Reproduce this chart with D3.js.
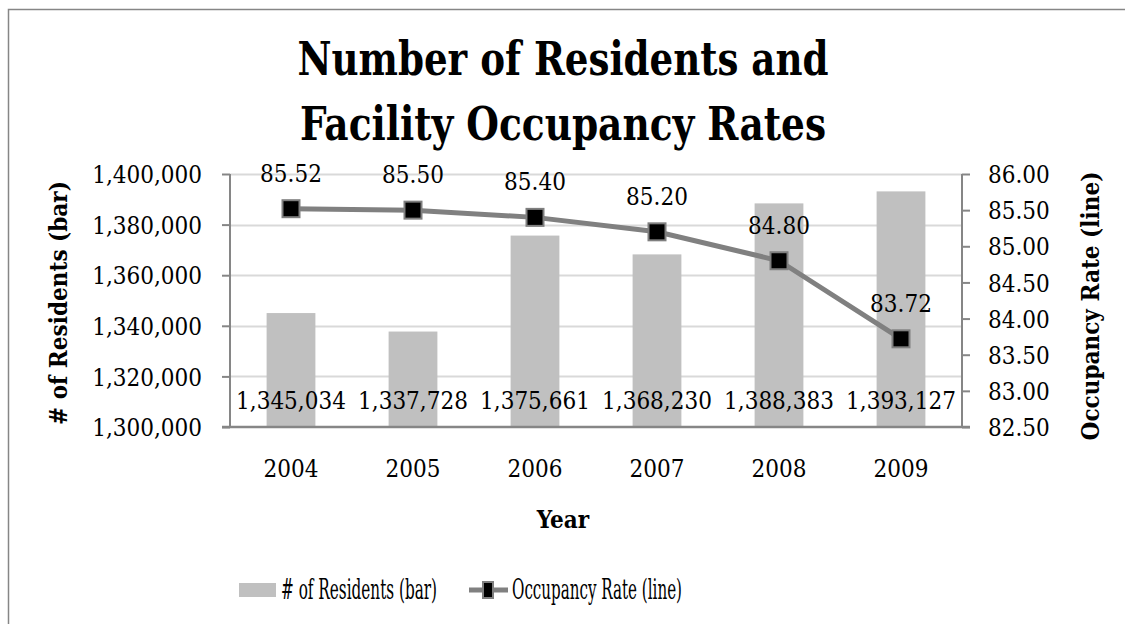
<!doctype html>
<html>
<head>
<meta charset="utf-8">
<title>Number of Residents and Facility Occupancy Rates</title>
<script src="https://d3js.org/d3.v7.min.js"></script>
<style>
  html, body { margin: 0; background: #fff; overflow: hidden; }
  svg text { font-family: "DejaVu Serif Condensed", "DejaVu Serif", serif; font-stretch: condensed; fill: #000; }
</style>
</head>
<body>
<svg id="chart" width="1125" height="624"></svg>
<script>
// data
var years = ["2004", "2005", "2006", "2007", "2008", "2009"];
var residents = [1345034, 1337728, 1375661, 1368230, 1388383, 1393127];
var occupancy = [85.52, 85.50, 85.40, 85.20, 84.80, 83.72];
var leftTicks = [1300000, 1320000, 1340000, 1360000, 1380000, 1400000];
var rightTicks = [82.5, 83, 83.5, 84, 84.5, 85, 85.5, 86];

var svg = d3.select("#chart");
var m = {left: 230, right: 962, top: 174, bottom: 427};

// chart border (only top / left visible in the frame)
svg.append("rect")
    .attr("x", 8.5).attr("y", 9.5)
    .attr("width", 1300).attr("height", 800)
    .attr("fill", "none").attr("stroke", "#868686").attr("stroke-width", 1.5);

var x = d3.scaleBand().domain(years).range([m.left, m.right]).paddingInner(0.6).paddingOuter(0.3);
var yL = d3.scaleLinear().domain([1300000, 1400000]).range([m.bottom, m.top]);
var yR = d3.scaleLinear().domain([82.5, 86]).range([m.bottom, m.top]);
var fmt = d3.format(",");

// gridlines
svg.append("g").selectAll("line").data(leftTicks.slice(1)).enter().append("line")
    .attr("x1", m.left).attr("x2", m.right)
    .attr("y1", function(d) { return Math.round(yL(d)) + 0.5; })
    .attr("y2", function(d) { return Math.round(yL(d)) + 0.5; })
    .attr("stroke", "#d9d9d9").attr("stroke-width", 2);

// bars
svg.append("g").selectAll("rect").data(residents).enter().append("rect")
    .attr("x", function(d, i) { return x(years[i]); })
    .attr("width", x.bandwidth())
    .attr("y", function(d) { return yL(d); })
    .attr("height", function(d) { return m.bottom - yL(d); })
    .attr("fill", "#c0c0c0");

// left axis
var axL = svg.append("g").attr("transform", "translate(" + m.left + ",0)")
    .call(d3.axisLeft(yL).tickValues(leftTicks).tickFormat(fmt).tickSize(8).tickPadding(20));
// right axis
var axR = svg.append("g").attr("transform", "translate(" + m.right + ",0)")
    .call(d3.axisRight(yR).tickValues(rightTicks).tickFormat(d3.format(".2f")).tickSize(8).tickPadding(18));
[axL, axR].forEach(function(a) {
  a.select(".domain").remove();
  a.selectAll(".tick line").attr("stroke", "#868686").attr("stroke-width", 2);
  a.selectAll(".tick text").attr("font-size", 24).attr("font-family", null).attr("dy", "0.36em");
});
svg.append("line").attr("x1", m.left).attr("x2", m.left).attr("y1", m.top).attr("y2", m.bottom + 1)
    .attr("stroke", "#868686").attr("stroke-width", 2);
svg.append("line").attr("x1", m.right).attr("x2", m.right).attr("y1", m.top).attr("y2", m.bottom + 1)
    .attr("stroke", "#868686").attr("stroke-width", 2);
svg.append("line").attr("x1", m.left - 8).attr("x2", m.right + 8).attr("y1", m.bottom).attr("y2", m.bottom)
    .attr("stroke", "#868686").attr("stroke-width", 2.5);

// x labels
svg.append("g").selectAll("text").data(years).enter().append("text")
    .attr("x", function(d) { return x(d) + x.bandwidth() / 2; })
    .attr("y", 477).attr("text-anchor", "middle").attr("font-size", 24)
    .text(function(d) { return d; });

// bar labels (inside base)
svg.append("g").selectAll("text").data(residents).enter().append("text")
    .attr("x", function(d, i) { return x(years[i]) + x.bandwidth() / 2; })
    .attr("y", 409).attr("text-anchor", "middle").attr("font-size", 24)
    .text(function(d) { return fmt(d); });

// line
var cx = function(d, i) { return x(years[i]) + x.bandwidth() / 2; };
svg.append("path").datum(occupancy)
    .attr("d", d3.line().x(cx).y(function(d) { return yR(d); }))
    .attr("fill", "none").attr("stroke", "#808080").attr("stroke-width", 5);
svg.append("g").selectAll("rect").data(occupancy).enter().append("rect")
    .attr("x", function(d, i) { return cx(d, i) - 8.5; })
    .attr("y", function(d) { return yR(d) - 8.5; })
    .attr("width", 17).attr("height", 17)
    .attr("fill", "#000").attr("stroke", "#7f7f7f").attr("stroke-width", 2);
svg.append("g").selectAll("text").data(occupancy).enter().append("text")
    .attr("x", cx)
    .attr("y", function(d) { return yR(d) - 27; })
    .attr("text-anchor", "middle").attr("font-size", 24)
    .text(function(d) { return d.toFixed(2); });

// title
var title = svg.append("text").attr("text-anchor", "middle").attr("font-weight", "bold").attr("font-size", 47);
title.append("tspan").attr("x", 563).attr("y", 75)
    .attr("textLength", 531).attr("lengthAdjust", "spacingAndGlyphs")
    .text("Number of Residents and");
title.append("tspan").attr("x", 563).attr("y", 140)
    .attr("textLength", 526).attr("lengthAdjust", "spacingAndGlyphs")
    .text("Facility Occupancy Rates");

// axis titles
svg.append("text").attr("transform", "translate(67,303) rotate(-90)")
    .attr("text-anchor", "middle").attr("font-weight", "bold").attr("font-size", 24)
    .text("# of Residents (bar)");
svg.append("text").attr("transform", "translate(1099,306) rotate(-90)")
    .attr("text-anchor", "middle").attr("font-weight", "bold").attr("font-size", 24)
    .text("Occupancy Rate (line)");
svg.append("text").attr("x", 563).attr("y", 528)
    .attr("text-anchor", "middle").attr("font-weight", "bold").attr("font-size", 24)
    .text("Year");

// legend
var lg = svg.append("g");
lg.append("rect").attr("x", 239).attr("y", 583).attr("width", 37).attr("height", 14).attr("fill", "#c0c0c0");
lg.append("text").attr("x", 281).attr("y", 599).attr("font-size", 27)
    .attr("textLength", 156).attr("lengthAdjust", "spacingAndGlyphs")
    .text("# of Residents (bar)");
lg.append("line").attr("x1", 469).attr("x2", 508).attr("y1", 590).attr("y2", 590)
    .attr("stroke", "#808080").attr("stroke-width", 5);
lg.append("rect").attr("x", 483).attr("y", 582).attr("width", 10).attr("height", 16)
    .attr("fill", "#000").attr("stroke", "#7f7f7f").attr("stroke-width", 2);
lg.append("text").attr("x", 512).attr("y", 599).attr("font-size", 27)
    .attr("textLength", 170).attr("lengthAdjust", "spacingAndGlyphs")
    .text("Occupancy Rate (line)");
</script>
</body>
</html>
